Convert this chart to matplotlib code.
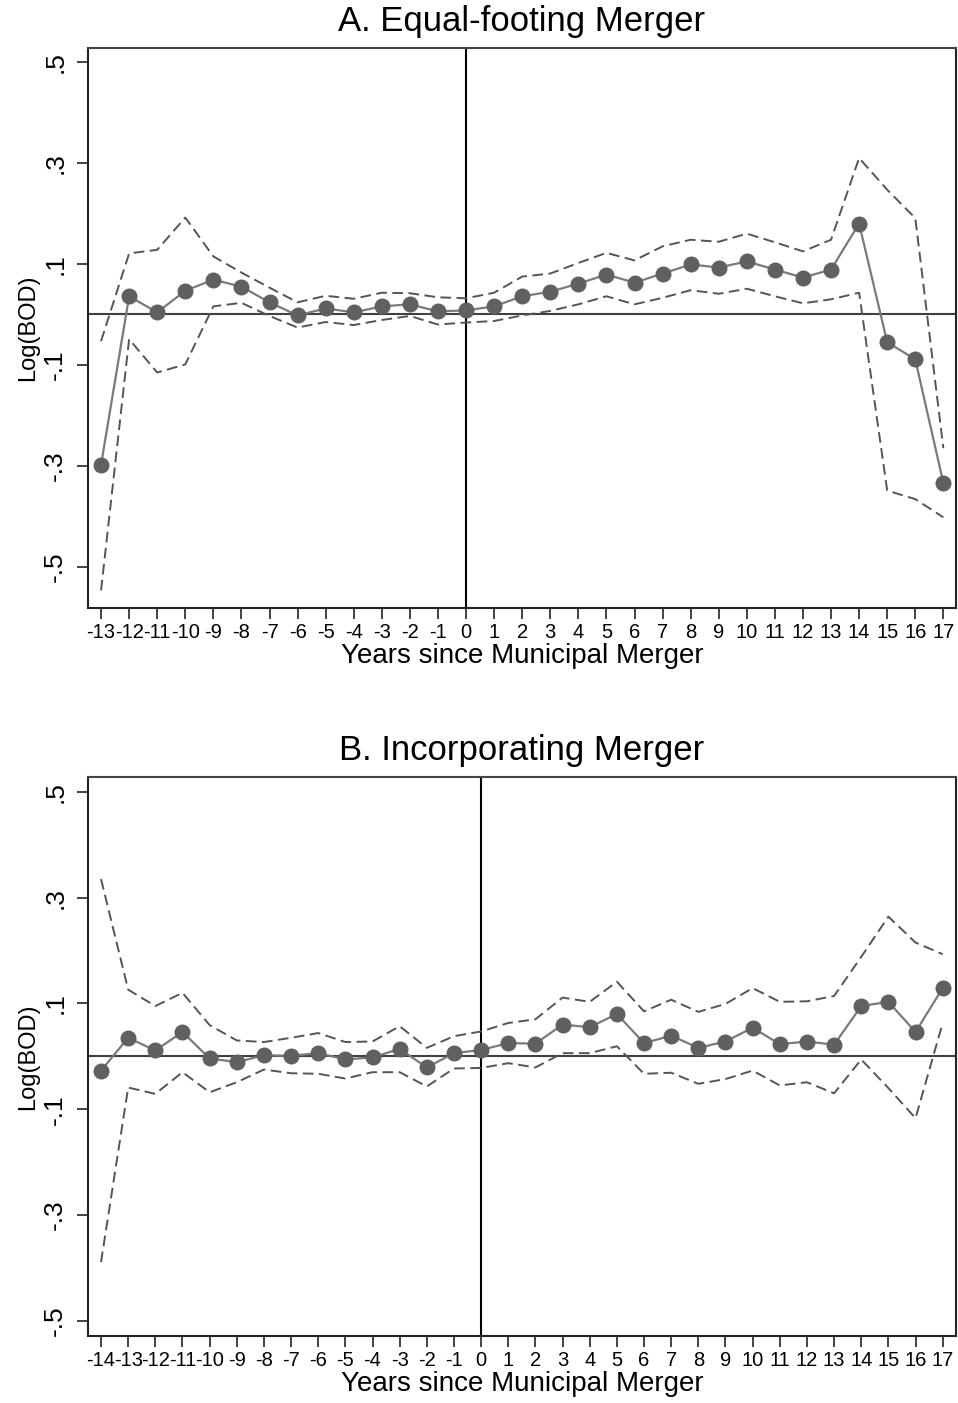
import matplotlib
matplotlib.use("Agg")
import matplotlib.pyplot as plt

plt.rcParams["font.family"] = ["Liberation Sans", "DejaVu Sans"]

# panel A: equal-footing merger
years_a = list(range(-13, 18))
coef_a = [-0.298, 0.036, 0.004, 0.047, 0.069, 0.055, 0.024, -0.002, 0.012, 0.004,
          0.016, 0.020, 0.006, 0.008, 0.016, 0.036, 0.045, 0.061, 0.079, 0.063,
          0.081, 0.099, 0.093, 0.105, 0.089, 0.073, 0.089, 0.180, -0.055, -0.089,
          -0.334]
upper_a = [-0.053, 0.121, 0.128, 0.192, 0.115, 0.083, 0.053, 0.024, 0.037, 0.031,
           0.043, 0.042, 0.034, 0.032, 0.043, 0.075, 0.081, 0.102, 0.122, 0.107,
           0.135, 0.148, 0.144, 0.160, 0.143, 0.125, 0.148, 0.310, 0.247, 0.191,
           -0.265]
lower_a = [-0.547, -0.049, -0.115, -0.099, 0.016, 0.023, -0.003, -0.026, -0.015, -0.021,
           -0.011, -0.003, -0.020, -0.016, -0.013, -0.002, 0.007, 0.020, 0.036, 0.020,
           0.033, 0.048, 0.041, 0.051, 0.036, 0.022, 0.030, 0.043, -0.349, -0.366,
           -0.402]

# panel B: incorporating merger
years_b = list(range(-14, 18))
coef_b = [-0.027, 0.035, 0.011, 0.046, -0.004, -0.011, 0.002, 0.001, 0.006, -0.006,
          -0.002, 0.014, -0.021, 0.006, 0.012, 0.025, 0.024, 0.060, 0.055, 0.080,
          0.025, 0.039, 0.016, 0.028, 0.054, 0.023, 0.028, 0.022, 0.095, 0.103,
          0.046, 0.129]
upper_b = [0.335, 0.126, 0.095, 0.120, 0.059, 0.030, 0.027, 0.035, 0.044, 0.027,
           0.028, 0.057, 0.016, 0.038, 0.047, 0.063, 0.070, 0.111, 0.103, 0.141,
           0.085, 0.107, 0.084, 0.099, 0.129, 0.103, 0.104, 0.114, 0.188, 0.264,
           0.215, 0.193]
lower_b = [-0.389, -0.059, -0.071, -0.030, -0.068, -0.049, -0.025, -0.032, -0.033, -0.042,
           -0.030, -0.030, -0.057, -0.023, -0.022, -0.013, -0.021, 0.006, 0.006, 0.019,
           -0.033, -0.031, -0.052, -0.043, -0.027, -0.055, -0.049, -0.070, -0.006, -0.060,
           -0.117, 0.063]

ytick_vals = [0.5, 0.3, 0.1, -0.1, -0.3, -0.5]
ytick_labels = [".5", ".3", ".1", "-.1", "-.3", "-.5"]

fig = plt.figure(figsize=(9.58, 14.03), dpi=100)
ax_a = fig.add_axes([0.0919, 0.5669, 0.906, 0.3989])
ax_b = fig.add_axes([0.0919, 0.0480, 0.906, 0.3982])


def draw_panel(ax, years, coef, upper, lower, title, xlim, ylim):
    ax.plot(years, upper, color="#555555", lw=1.4, dashes=(5.5, 2.8), zorder=2)
    ax.plot(years, lower, color="#555555", lw=1.4, dashes=(5.5, 2.8), zorder=2)
    ax.axhline(0, color="#404040", lw=1.5, zorder=1)
    ax.axvline(0, color="black", lw=1.5, zorder=1)
    ax.plot(years, coef, color="#7a7a7a", lw=1.6, marker="o", markersize=10.5,
            markerfacecolor="#606060", markeredgecolor="#606060", zorder=3)
    ax.set_xlim(*xlim)
    ax.set_ylim(*ylim)
    ax.set_xticks(years)
    ax.set_xticklabels([str(y) for y in years], fontsize=14.5)
    ax.set_yticks(ytick_vals)
    ax.set_yticklabels(ytick_labels, fontsize=19, rotation=90, va="center")
    ax.tick_params(axis="both", direction="out", length=8, width=1.2, color="#222222")
    ax.tick_params(axis="x", pad=3)
    ax.tick_params(axis="y", pad=7)
    for s in ax.spines.values():
        s.set_linewidth(1.5)
        s.set_color("#222222")
    ax.spines["top"].set_color("#444444")
    ax.set_xlabel("Years since Municipal Merger", fontsize=20, labelpad=1)
    ax.set_ylabel("Log(BOD)", fontsize=17, labelpad=3)
    ax.set_title(title, fontsize=25, pad=12)


draw_panel(ax_a, years_a, coef_a, upper_a, lower_a, "A. Equal-footing Merger",
           (-13.463, 17.45), (-0.581, 0.528))
draw_panel(ax_b, years_b, coef_b, upper_b, lower_b, "B. Incorporating Merger",
           (-14.478, 17.49), (-0.528, 0.528))

fig.savefig("out.png", dpi=100)
